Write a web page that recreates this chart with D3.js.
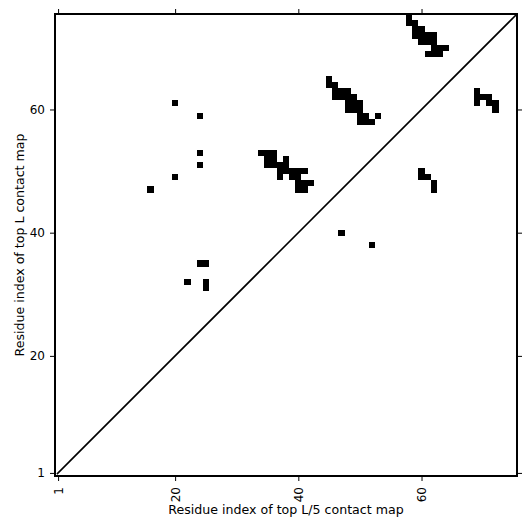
<!DOCTYPE html>
<html>
<head>
<meta charset="utf-8">
<script src="https://cdn.jsdelivr.net/npm/d3@7"></script>
<style>
  body { margin: 0; background: #fff; }
  text { font-family: "DejaVu Sans", sans-serif; }
</style>
</head>
<body>
<div id="chart"></div>
<script>
// residues in the protein
var nResidues = 75;
var tickValues = [1, 20, 40, 60];

// contact cells [column residue, row residue]
var singleContacts = [
  [20, 61], [24, 59], [24, 53], [24, 51], [20, 49], [16, 47],
  [24, 35], [25, 35], [22, 32], [25, 32], [25, 31],
  [47, 40], [52, 38]
];
var clusterA = [
  [34, 53], [35, 53], [36, 53],
  [35, 52], [36, 52], [38, 52],
  [35, 51], [36, 51], [37, 51], [38, 51],
  [37, 50], [38, 50], [39, 50], [40, 50], [41, 50],
  [37, 49], [39, 49], [40, 49],
  [40, 48], [41, 48], [42, 48],
  [40, 47], [41, 47]
];
var clusterB = [
  [45, 65],
  [45, 64], [46, 64],
  [46, 63], [47, 63], [48, 63],
  [46, 62], [47, 62], [48, 62], [49, 62],
  [48, 61], [49, 61], [50, 61],
  [48, 60], [49, 60], [50, 60],
  [50, 59], [51, 59], [53, 59],
  [50, 58], [51, 58], [52, 58]
];
var clusterC = [
  [58, 75],
  [58, 74], [59, 74],
  [59, 73], [60, 73],
  [59, 72], [60, 72], [61, 72], [62, 72],
  [60, 71], [61, 71], [62, 71],
  [62, 70], [63, 70], [64, 70],
  [61, 69], [62, 69], [63, 69]
];
var clusterD = [
  [69, 63],
  [69, 62], [70, 62], [71, 62],
  [69, 61], [71, 61], [72, 61],
  [72, 60]
];
var clusterE = [
  [60, 50], [60, 49], [61, 49], [62, 48], [62, 47]
];

var contacts = singleContacts.concat(clusterA, clusterB, clusterC, clusterD, clusterE);

var W = 531, H = 531;
var margin = {top: 14, right: 14, bottom: 55, left: 55};
var width = W - margin.left - margin.right,
    height = H - margin.top - margin.bottom;

var svg = d3.select("#chart")
    .append("svg")
        .attr("width", W)
        .attr("height", H)
    .append("g")
        .attr("transform", "translate(" + margin.left + "," + margin.top + ")");

var x = d3.scaleLinear()
    .domain([0.5, nResidues + 0.5])
    .range([0, width]);
var y = d3.scaleLinear()
    .domain([0.5, nResidues + 0.5])
    .range([height, 0]);

// cells
svg.selectAll("rect.cell")
    .data(contacts)
    .enter()
    .append("rect")
    .attr("class", "cell")
    .attr("x", function(d) { return x(d[0] - 0.5); })
    .attr("y", function(d) { return y(d[1] + 0.5); })
    .attr("width", function(d) { return x(d[0] + 0.5) - x(d[0] - 0.5); })
    .attr("height", function(d) { return y(d[1] - 0.5) - y(d[1] + 0.5); })
    .attr("fill", "#000")
    .attr("shape-rendering", "crispEdges");

// diagonal
svg.append("line")
    .attr("x1", x(0.8)).attr("y1", y(0.8))
    .attr("x2", x(nResidues + 0.5)).attr("y2", y(nResidues + 0.5))
    .attr("stroke", "#000")
    .attr("stroke-width", 1.6);

// axes
var xAxis = svg.append("g")
    .attr("transform", "translate(0," + height + ")")
    .call(d3.axisBottom(x).tickValues(tickValues).tickSize(5).tickSizeOuter(0));
xAxis.selectAll("text")
    .attr("y", 0)
    .attr("x", -11)
    .attr("dy", "0.35em")
    .attr("transform", "rotate(-90)")
    .style("text-anchor", "end");

var yAxis = svg.append("g")
    .call(d3.axisLeft(y).tickValues(tickValues).tickSize(5).tickSizeOuter(0).tickPadding(5));

svg.append("g")
    .call(d3.axisTop(x).tickValues(tickValues).tickSize(5).tickSizeOuter(0).tickFormat(""));
svg.append("g")
    .attr("transform", "translate(" + width + ",0)")
    .call(d3.axisRight(y).tickValues(tickValues).tickSize(5).tickSizeOuter(0).tickFormat(""));

svg.selectAll(".domain").remove();
svg.selectAll(".tick text").attr("font-size", 12).attr("fill", "#000").style("font-family", "DejaVu Sans");
svg.selectAll(".tick line").attr("stroke", "#000");

// frame
svg.append("rect")
    .attr("x", 0).attr("y", 0)
    .attr("width", width).attr("height", height)
    .attr("fill", "none")
    .attr("stroke", "#000")
    .attr("stroke-width", 2);

// axis labels
svg.append("text")
    .attr("x", width / 2)
    .attr("y", height + 38)
    .attr("text-anchor", "middle")
    .attr("font-size", 12.6)
    .text("Residue index of top L/5 contact map");

svg.append("text")
    .attr("transform", "rotate(-90)")
    .attr("x", -height / 2)
    .attr("y", -31)
    .attr("text-anchor", "middle")
    .attr("font-size", 12.6)
    .text("Residue index of top L contact map");
</script>
</body>
</html>
